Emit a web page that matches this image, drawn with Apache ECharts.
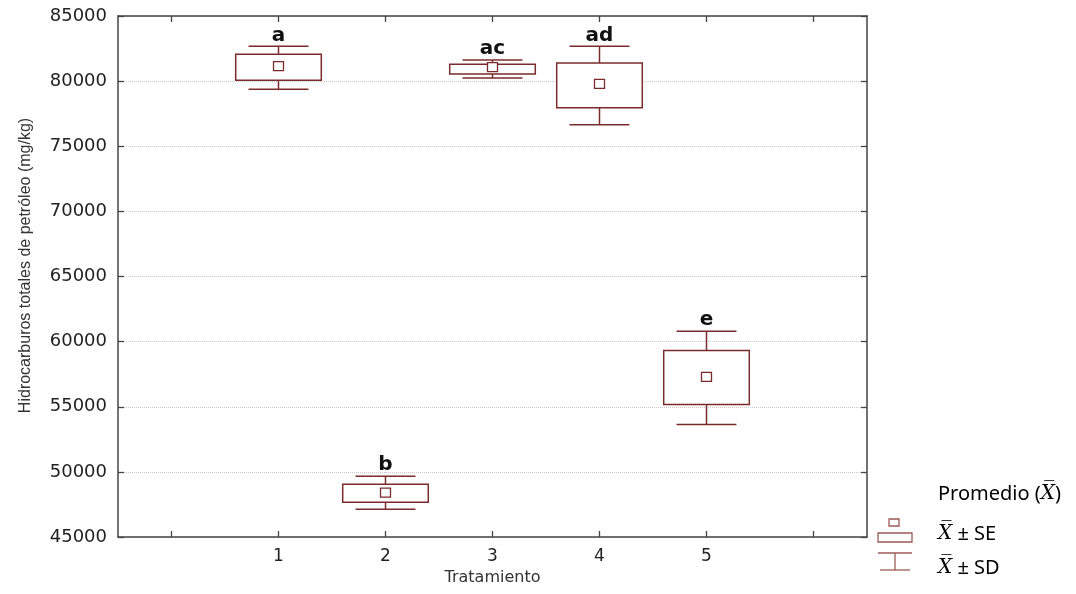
<!DOCTYPE html>
<html>
<head>
<meta charset="utf-8">
<script src="https://cdn.jsdelivr.net/npm/echarts@6/dist/echarts.min.js"></script>
<style>
html,body{margin:0;padding:0;background:#fff;}
#chart{width:1076px;height:594px;}
</style>
</head>
<body>
<div id="chart"></div>
<script>
// ---- data ----
const categories = ['', '1', '2', '3', '4', '5', ''];
const treatmentIndex = [1, 2, 3, 4, 5];
const sdLow  = [79370, 47135, 80238, 76651, 53641];
const seLow  = [80061, 47673, 80545, 77957, 55177];
const means  = [81106, 48364, 81030, 79754, 57250];
const seHigh = [82058, 49055, 81290, 81390, 59324];
const sdHigh = [82673, 49670, 81621, 82673, 60806];
const groupLetters = ['a', 'b', 'ac', 'ad', 'e'];
const yTicks = { min: 45000, max: 85000, step: 5000 };

const boxData = treatmentIndex.map((c, i) => [c, sdLow[i], seLow[i], means[i], seHigh[i], sdHigh[i], i]);

const BOX = '#7a2b2b';
const AX = '#444';

const chart = echarts.init(document.getElementById('chart'), null, { renderer: 'canvas' });

function renderItem(params, api) {
  const x = api.value(0);
  const pSdL = api.coord([x, api.value(1)]);
  const pSeL = api.coord([x, api.value(2)]);
  const pM = api.coord([x, api.value(3)]);
  const pSeH = api.coord([x, api.value(4)]);
  const pSdH = api.coord([x, api.value(5)]);
  const band = api.size([1, 0])[0];
  const bw = band * 0.8, cw = band * 0.56, ms = 10;
  const cx = pM[0];
  const ls = { stroke: BOX, lineWidth: 1.5, fill: null };
  const idx = api.value(6);
  return {
    type: 'group',
    children: [
      { type: 'line', shape: { x1: cx, y1: pSdL[1], x2: cx, y2: pSeL[1] }, style: ls },
      { type: 'line', shape: { x1: cx, y1: pSeH[1], x2: cx, y2: pSdH[1] }, style: ls },
      { type: 'line', shape: { x1: cx - cw / 2, y1: pSdL[1], x2: cx + cw / 2, y2: pSdL[1] }, style: ls },
      { type: 'line', shape: { x1: cx - cw / 2, y1: pSdH[1], x2: cx + cw / 2, y2: pSdH[1] }, style: ls },
      { type: 'rect', shape: { x: cx - bw / 2, y: pSeH[1], width: bw, height: pSeL[1] - pSeH[1] }, style: { stroke: BOX, lineWidth: 1.5, fill: '#fff' } },
      { type: 'rect', shape: { x: cx - ms / 2, y: pM[1] - ms / 2, width: ms, height: ms - 1 }, style: { stroke: BOX, lineWidth: 1.3, fill: '#fff' } },
      { type: 'text', style: { text: groupLetters[idx], x: cx, y: pSdH[1] - 1, align: 'center', verticalAlign: 'bottom', fontFamily: 'DejaVu Sans', fontWeight: 'bold', fontSize: 20, fill: '#111' } }
    ]
  };
}

const tickStyle = { show: true, inside: true, length: 6, lineStyle: { color: AX, width: 1.3 } };
const lineStyle = { show: true, lineStyle: { color: AX, width: 1.5 } };

chart.setOption({
  animation: false,
  backgroundColor: '#fff',
  grid: { left: 118, right: 209, top: 16, bottom: 57, containLabel: false },
  xAxis: [
    {
      type: 'category', data: categories, position: 'bottom', boundaryGap: true,
      axisLine: lineStyle,
      axisTick: Object.assign({ alignWithLabel: true, interval: 0 }, tickStyle),
      axisLabel: { interval: 0, fontFamily: 'DejaVu Sans', fontSize: 17, color: '#222', margin: 11 },
      splitLine: { show: false },
      name: 'Tratamiento', nameLocation: 'middle', nameGap: 33,
      nameTextStyle: { fontFamily: 'DejaVu Sans', fontSize: 16, color: '#333' }
    },
    {
      type: 'category', data: categories, position: 'top', boundaryGap: true,
      axisLine: lineStyle,
      axisTick: Object.assign({ alignWithLabel: true, interval: 0 }, tickStyle),
      axisLabel: { show: false }, splitLine: { show: false }
    }
  ],
  yAxis: [
    {
      type: 'value', min: yTicks.min, max: yTicks.max, interval: yTicks.step,
      axisLine: lineStyle, axisTick: tickStyle,
      axisLabel: { fontFamily: 'DejaVu Sans', fontSize: 18, color: '#222', margin: 11, formatter: v => String(v) },
      splitLine: { show: true, lineStyle: { type: 'dotted', color: '#c8c8c8', width: 1 } },
      name: 'Hidrocarburos totales de petróleo (mg/kg)', nameLocation: 'middle', nameGap: 84,
      nameTextStyle: { fontFamily: 'Liberation Sans', fontSize: 16, color: '#333', padding: [0, 0, 0, 22] }
    },
    {
      type: 'value', position: 'right', min: yTicks.min, max: yTicks.max, interval: yTicks.step,
      axisLine: lineStyle, axisTick: tickStyle,
      axisLabel: { show: false }, splitLine: { show: false }
    }
  ],
  series: [
    {
      type: 'custom', xAxisIndex: 0, yAxisIndex: 0,
      renderItem: renderItem,
      encode: { x: 0, y: [1, 2, 3, 4, 5] },
      data: boxData, z: 5
    }
  ],
  graphic: [
    { type: 'rect', shape: { x: 889, y: 519, width: 10, height: 7 }, style: { stroke: '#9c5b57', lineWidth: 1.3, fill: '#fff' } },
    { type: 'rect', shape: { x: 878, y: 533, width: 34, height: 9 }, style: { stroke: '#9c5b57', lineWidth: 1.3, fill: '#fff' } },
    { type: 'line', shape: { x1: 878, y1: 553, x2: 912, y2: 553 }, style: { stroke: '#9c5b57', lineWidth: 1.3 } },
    { type: 'line', shape: { x1: 895, y1: 553, x2: 895, y2: 570 }, style: { stroke: '#9c5b57', lineWidth: 1.3 } },
    { type: 'line', shape: { x1: 880, y1: 570, x2: 910, y2: 570 }, style: { stroke: '#9c5b57', lineWidth: 1.3 } },
    {
      type: 'text', x: 938, y: 494,
      style: {
        text: '{n|Promedio (}{x|X\u0305}{n|)}', verticalAlign: 'middle',
        rich: { n: { fontFamily: 'Noto Sans', fontSize: 20, fill: '#000' }, x: { fontFamily: 'DejaVu Serif', fontStyle: 'italic', fontSize: 20, fill: '#000' } }
      }
    },
    {
      type: 'text', x: 938, y: 534,
      style: {
        text: '{x|X\u0305}{n| ± SE}', verticalAlign: 'middle',
        rich: { n: { fontFamily: 'Noto Sans', fontSize: 20, fill: '#000' }, x: { fontFamily: 'DejaVu Serif', fontStyle: 'italic', fontSize: 20, fill: '#000' } }
      }
    },
    {
      type: 'text', x: 938, y: 568,
      style: {
        text: '{x|X\u0305}{n| ± SD}', verticalAlign: 'middle',
        rich: { n: { fontFamily: 'Noto Sans', fontSize: 20, fill: '#000' }, x: { fontFamily: 'DejaVu Serif', fontStyle: 'italic', fontSize: 20, fill: '#000' } }
      }
    }
  ]
});
</script>
</body>
</html>
